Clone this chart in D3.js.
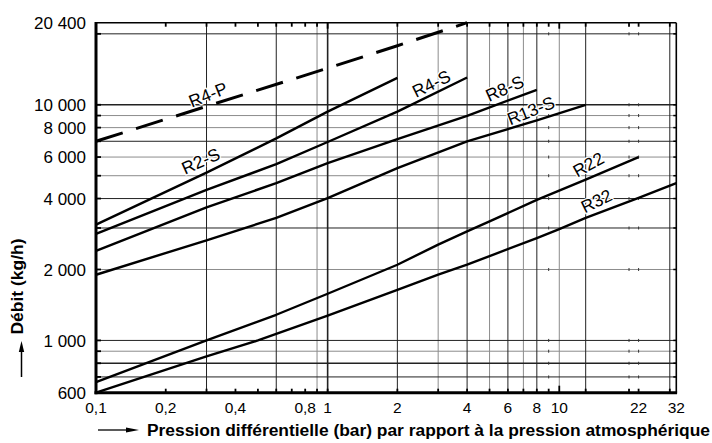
<!DOCTYPE html>
<html><head><meta charset="utf-8">
<script src="https://cdn.jsdelivr.net/npm/d3@7"></script>
<style>
html,body{margin:0;padding:0;background:#fff;}
svg{display:block;font-family:"Liberation Sans",Arial,Helvetica,sans-serif;}
</style>
</head><body>
<svg id="chart" width="712" height="443"></svg>
<script>
// ---------- data ----------
const seriesNames = ["R4-P", "R2-S", "R4-S", "R8-S", "R13-S", "R22", "R32"];
const seriesDashed = [true, false, false, false, false, false, false];

const pR4P  = [0.1, 0.3, 1, 2, 4];
const vR4P  = [7000, 9850, 14300, 17800, 22300];
const pR2S  = [0.1, 0.3, 0.6, 1, 2];
const vR2S  = [3100, 5150, 7200, 9350, 13000];
const pR4S  = [0.1, 0.3, 0.6, 1, 2, 4];
const vR4S  = [2830, 4350, 5600, 6950, 9350, 13060];
const pR8S  = [0.1, 0.3, 0.6, 1, 2, 4, 8];
const vR8S  = [2400, 3670, 4650, 5660, 7150, 8980, 11580];
const pR13S = [0.1, 0.3, 0.6, 1, 2, 4, 8, 13];
const vR13S = [1900, 2660, 3310, 4020, 5390, 7000, 8580, 10000];
const pR22  = [0.1, 0.3, 0.6, 1, 2, 3, 4, 5, 8, 13, 22];
const vR22  = [665, 1000, 1285, 1578, 2095, 2550, 2900, 3200, 3950, 4810, 6000];
const pR32  = [0.1, 0.3, 0.5, 1, 2, 3, 4, 8, 10, 13, 22, 32];
const vR32  = [600, 855, 1000, 1273, 1640, 1900, 2095, 2720, 2970, 3310, 4030, 4650];

const seriesP = [pR4P, pR2S, pR4S, pR8S, pR13S, pR22, pR32];
const seriesV = [vR4P, vR2S, vR4S, vR8S, vR13S, vR22, vR32];

// curve label anchors (pressure, flow) and rotation
const labelP = [0.307, 0.286, 2.83, 5.87, 7.6, 13.5, 14.6];
const labelV = [10810, 5660, 12040, 11500, 9250, 5470, 3830];
const labelAngle = [-22, -24, -26, -24, -22, -29, -26];

// axes
const xDomain = [0.1, 32];
const yDomain = [600, 22300];
const xTickValues = [0.1, 0.2, 0.4, 0.8, 1, 2, 4, 6, 8, 10, 22, 32];
const xTickLabels = ["0,1", "0,2", "0,4", "0,8", "1", "2", "4", "6", "8", "10", "22", "32"];
const yTickValues = [600, 1000, 2000, 4000, 6000, 8000, 10000, 22300];
const yTickLabels = ["600", "1 000", "2 000", "4 000", "6 000", "8 000", "10 000", "20 400"];

const xGridDark  = [0.3, 0.6, 1, 2, 4, 6, 8, 13, 30];
const xGridLight = [0.9, 3, 5, 7, 10];
const xMinorTicks = [0.2, 0.4, 0.5, 0.7, 0.8, 9, 20, 22];
const yGridDark  = [700, 800, 1000, 3000, 4000, 7000, 10000, 20000];
const yGridLight = [900, 2000, 5000, 6000, 8000, 9000];

const xTitle = "Pression différentielle (bar) par rapport à la pression atmosphérique";
const yTitle = "Débit (kg/h)";

// ---------- drawing ----------
const svg = d3.select("#chart");
const L = 96, R = 676.3, T = 22.7, B = 392.7;
const x = d3.scaleLog().domain(xDomain).range([L, R]);
const y = d3.scaleLog().domain(yDomain).range([B, T]);

const g = svg.append("g");

// grid
const grid = g.append("g");
grid.selectAll(".vgl").data(xGridLight).join("line")
  .attr("x1", d => x(d)).attr("x2", d => x(d)).attr("y1", T).attr("y2", B)
  .attr("stroke", "#8c8c8c").attr("stroke-width", 1);
grid.selectAll(".hgl").data(yGridLight).join("line")
  .attr("x1", L).attr("x2", R).attr("y1", d => y(d)).attr("y2", d => y(d))
  .attr("stroke", "#8c8c8c").attr("stroke-width", 1);
grid.selectAll(".vgd").data(xGridDark).join("line")
  .attr("x1", d => x(d)).attr("x2", d => x(d)).attr("y1", T).attr("y2", B)
  .attr("stroke", "#222").attr("stroke-width", d => d === 1 ? 1.6 : 1);
grid.selectAll(".hgd").data(yGridDark).join("line")
  .attr("x1", L).attr("x2", R).attr("y1", d => y(d)).attr("y2", d => y(d))
  .attr("stroke", "#222").attr("stroke-width", d => (d === 10000 || d === 800) ? 1.6 : 1);

// small marks of minor x ticks on each horizontal grid line
const marks = [];
[9, 20, 22].forEach(p => yGridDark.concat(yGridLight).forEach(v => marks.push([p, v])));
grid.selectAll(".mk").data(marks).join("line")
  .attr("x1", d => x(d[0])).attr("x2", d => x(d[0]))
  .attr("y1", d => y(d[1]) - 1.5).attr("y2", d => y(d[1]) + 1.5)
  .attr("stroke", "#333").attr("stroke-width", 1);

// axis ticks (inward) top & bottom
const allX = xGridDark.concat(xGridLight, xMinorTicks);
g.selectAll(".tb").data(allX).join("line")
  .attr("x1", d => x(d)).attr("x2", d => x(d))
  .attr("y1", B).attr("y2", d => B - (d === 10 ? 7 : 4))
  .attr("stroke", "#000").attr("stroke-width", 1.8);
g.selectAll(".tt").data(allX).join("line")
  .attr("x1", d => x(d)).attr("x2", d => x(d))
  .attr("y1", T).attr("y2", d => T + (d === 10 || d === 1 ? 6 : 4))
  .attr("stroke", "#000").attr("stroke-width", 1.8);
const allY = yGridDark.concat(yGridLight);
g.selectAll(".tl").data(allY).join("line")
  .attr("x1", L).attr("x2", L + 5).attr("y1", d => y(d)).attr("y2", d => y(d))
  .attr("stroke", "#000").attr("stroke-width", 1.8);
g.selectAll(".tr").data(allY).join("line")
  .attr("x1", R).attr("x2", R - 3).attr("y1", d => y(d)).attr("y2", d => y(d))
  .attr("stroke", "#000").attr("stroke-width", 1.5);

// curves
const line = d3.line().x(d => x(d[0])).y(d => y(d[1]));
seriesNames.forEach((name, i) => {
  const pts = seriesP[i].map((p, j) => [p, seriesV[i][j]]);
  g.append("path").datum(pts)
    .attr("d", line)
    .attr("fill", "none").attr("stroke", "#000")
    .attr("stroke-width", seriesDashed[i] ? 3 : 2.4)
    .attr("stroke-dasharray", seriesDashed[i] ? "28,14" : null)
    .attr("stroke-linejoin", "round");
});

// curve labels with white background halo (on top, as in the reference)
g.selectAll(".clab").data(seriesNames).join("text")
  .attr("transform", (d, i) => `translate(${x(labelP[i])},${y(labelV[i])}) rotate(${labelAngle[i]})`)
  .attr("text-anchor", "middle").attr("dy", "0.22em")
  .attr("font-size", 17.5)
  .attr("fill", "#000")
  .attr("stroke", "#fff").attr("stroke-width", 2.5).attr("paint-order", "stroke")
  .text(d => d);

// frame
g.append("line").attr("x1", L).attr("x2", R).attr("y1", T).attr("y2", T).attr("stroke", "#000").attr("stroke-width", 1.6);
g.append("line").attr("x1", R).attr("x2", R).attr("y1", T).attr("y2", B).attr("stroke", "#000").attr("stroke-width", 1.6);
g.append("line").attr("x1", L).attr("x2", L).attr("y1", T - 0.8).attr("y2", B + 1.5).attr("stroke", "#000").attr("stroke-width", 3);
g.append("line").attr("x1", L - 1.5).attr("x2", R + 0.8).attr("y1", B).attr("y2", B).attr("stroke", "#000").attr("stroke-width", 3);

// tick labels
g.selectAll(".xl").data(xTickValues).join("text")
  .attr("x", d => x(d)).attr("y", 412.5)
  .attr("text-anchor", "middle").attr("font-size", 15.5).attr("fill", "#000")
  .text((d, i) => xTickLabels[i]);
g.selectAll(".yl").data(yTickValues).join("text")
  .attr("x", 86).attr("y", d => y(d)).attr("dy", "0.36em")
  .attr("text-anchor", "end").attr("font-size", 17).attr("fill", "#000")
  .text((d, i) => yTickLabels[i]);

// axis titles
g.append("text").attr("x", 147).attr("y", 436)
  .attr("font-size", 16).attr("font-weight", "bold")
  .attr("textLength", 563).attr("lengthAdjust", "spacingAndGlyphs")
  .text(xTitle);
g.append("text").attr("transform", "translate(23,286.5) rotate(-90)")
  .attr("text-anchor", "middle")
  .attr("font-size", 16).attr("font-weight", "bold")
  .attr("textLength", 96).attr("lengthAdjust", "spacingAndGlyphs")
  .text(yTitle);

// arrows
g.append("line").attr("x1", 98).attr("x2", 130).attr("y1", 430).attr("y2", 430).attr("stroke", "#000").attr("stroke-width", 1.3);
g.append("path").attr("d", "M139,430 L126,427.5 L126,432.5 Z").attr("fill", "#000");
g.append("line").attr("x1", 21.5).attr("x2", 21.5).attr("y1", 377).attr("y2", 350).attr("stroke", "#000").attr("stroke-width", 1.5);
g.append("path").attr("d", "M21.5,341 L18.8,352 L24.2,352 Z").attr("fill", "#000");
</script>
</body></html>
